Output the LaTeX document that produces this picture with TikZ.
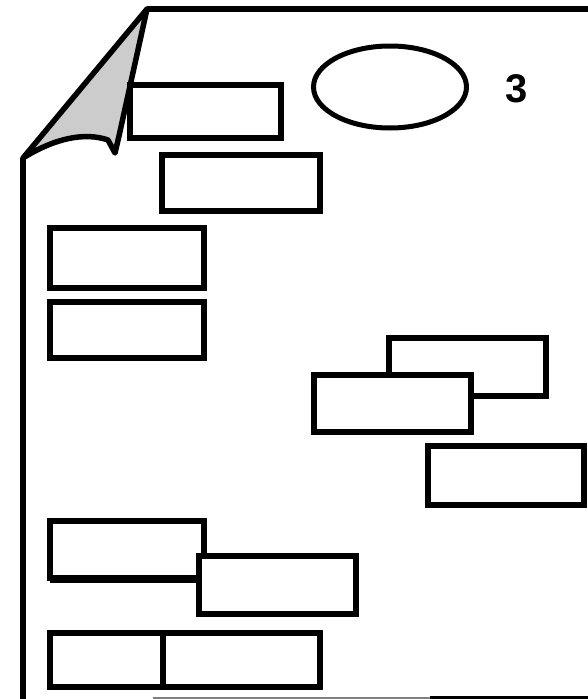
\documentclass[tikz,border=0pt]{standalone}
\usepackage{fontspec}
\setmainfont{Liberation Sans}
\usetikzlibrary{shapes.geometric}
\begin{document}
\begin{tikzpicture}[x=1pt,y=-1pt,
  box/.style={draw=black,fill=white,line width=5.5pt,inner sep=0pt,outer sep=0pt},
  edge/.style={draw=black,line width=5.5pt,line join=round}]
\useasboundingbox (0,0) rectangle (587,699);
% page outline
\coordinate (tip) at (147,9);
\coordinate (corner) at (23,158);
\coordinate (notch) at (115,153);
\coordinate (topright) at (590,9);
\coordinate (leftbottom) at (23,702);
\draw[edge] (topright) -- (tip);
\draw[edge] (corner) -- (leftbottom);
% folded corner
\filldraw[edge,fill=black!20] (tip) -- (corner)
  .. controls (55,138) and (85,132) .. (108,140)
  -- (notch) -- (119,136) -- cycle;
% bottom edge
\coordinate (bl) at (153,698);
\coordinate (bm) at (430,698);
\coordinate (br) at (590,698);
\draw[gray,line width=1.2pt] (bl) -- (bm);
\draw[black,line width=4.5pt] (bm) -- (br);
% boxes
\node[box,minimum width=151pt,minimum height=53pt] (b1) at (205.5,111.5) {};
\node[box,minimum width=158pt,minimum height=56pt] (b2) at (241,183) {};
\node[box,minimum width=154pt,minimum height=60pt] (b3) at (127,258) {};
\node[box,minimum width=154pt,minimum height=56pt] (b4) at (127,330) {};
\node[box,minimum width=157pt,minimum height=58pt] (b5) at (467.5,367) {};
\node[box,minimum width=157pt,minimum height=57pt] (b6) at (392.5,403.5) {};
\node[box,minimum width=156pt,minimum height=59pt] (b7) at (506,475.5) {};
\node[box,minimum width=154pt,minimum height=57pt] (b8) at (127,549.5) {};
\draw[edge] ([yshift=-2pt]b8.south west) -- ([yshift=-2pt,xshift=-4pt]b8.south east);
\node[box,minimum width=157pt,minimum height=58pt] (b9) at (277.5,585) {};
\node[box,minimum width=270pt,minimum height=54pt] (b10) at (185,660) {};
\coordinate (d1) at (163,633);
\coordinate (d2) at (163,687);
\draw[edge] (d1) -- (d2);
% ellipse and label
\node[draw=black,line width=5pt,ellipse,minimum width=153pt,minimum height=82pt,inner sep=0pt] (ell) at (390,87) {};
\node[font=\fontsize{40pt}{40pt}\selectfont\bfseries,inner sep=0pt] (lbl) at (517,89) {3};
\end{tikzpicture}
\end{document}
